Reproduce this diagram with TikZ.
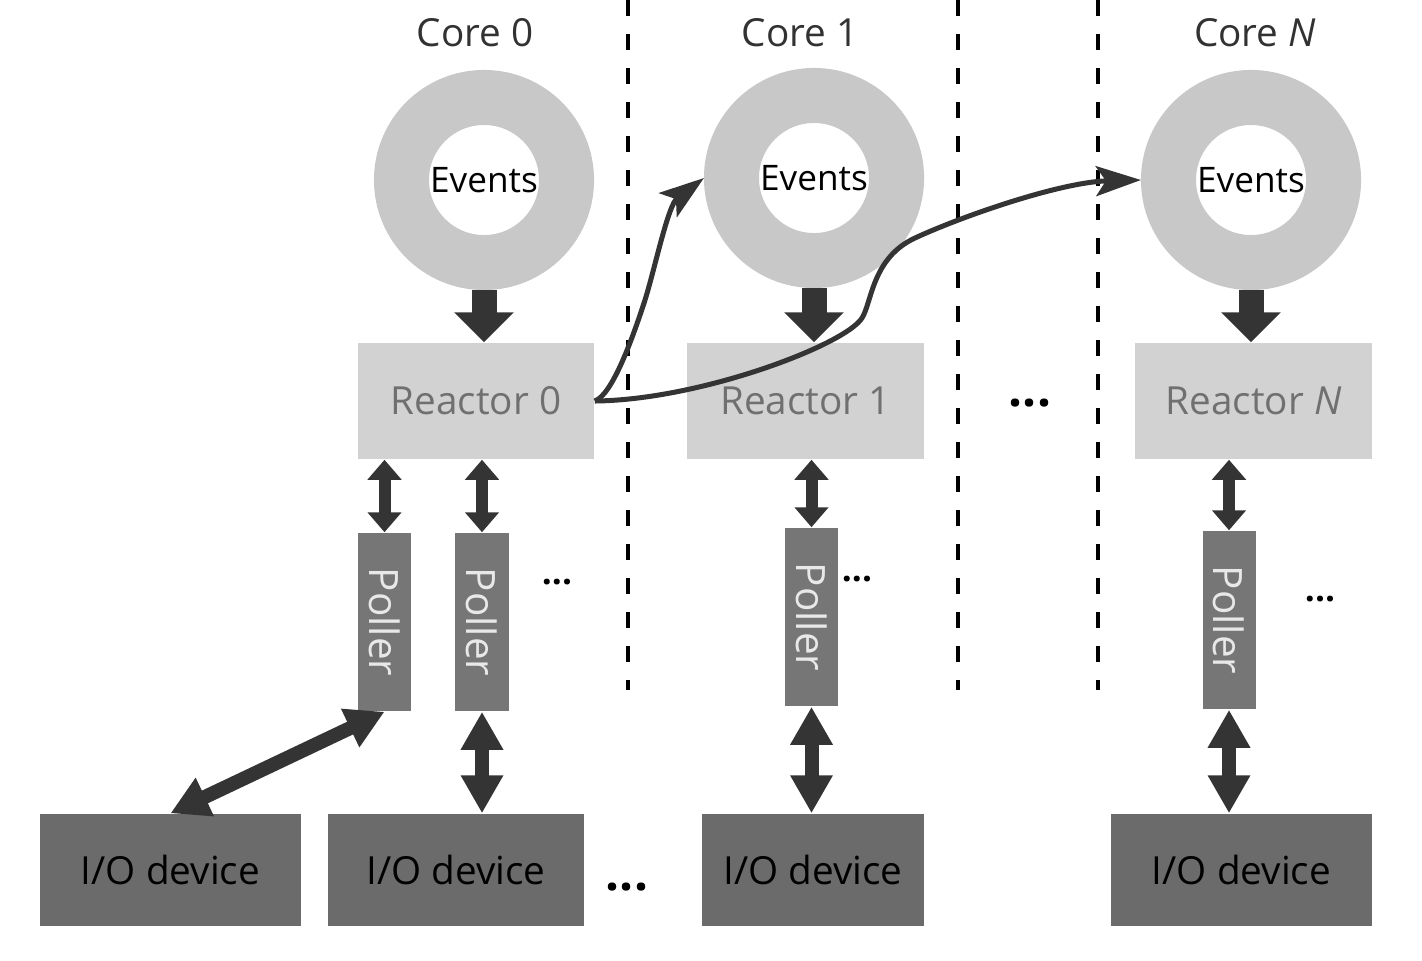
\documentclass[tikz,border=0pt]{standalone}
\usepackage{fontspec}
\setmainfont{Open Sans}
\usepackage{graphicx}
\usepackage{tikz}
\usetikzlibrary{arrows.meta,positioning}

\definecolor{ringgray}{RGB}{200,200,200}
\definecolor{reactorgray}{RGB}{210,210,210}
\definecolor{reactortext}{RGB}{112,112,112}
\definecolor{pollergray}{RGB}{118,118,118}
\definecolor{pollertext}{RGB}{232,232,232}
\definecolor{devicegray}{RGB}{107,107,107}
\definecolor{arrowgray}{RGB}{52,52,52}
\definecolor{labelgray}{RGB}{50,50,50}

\begin{document}
\begin{tikzpicture}[x=0.01cm,y=-0.01cm,
	core/.style={text=labelgray,font=\fontsize{11}{11}\selectfont},
	ring/.style={circle,draw=ringgray,line width=5.5mm,minimum size=16.5mm,inner sep=0pt,text=black,font=\fontsize{10}{10}\selectfont},
	reactor/.style={fill=reactorgray,text=reactortext,minimum width=23.6mm,minimum height=11.6mm,font=\fontsize{11}{11}\selectfont},
	poller/.style={fill=pollergray,text=pollertext,minimum width=5.3mm,minimum height=17.8mm,inner sep=0pt,font=\fontsize{11.5}{11.5}\selectfont},
	device/.style={fill=devicegray,text=black,minimum height=11.2mm,font=\fontsize{11}{11}\selectfont},
	bigdots/.style={anchor=base,font=\bfseries\fontsize{14}{14}\selectfont},
	smalldots/.style={anchor=base,font=\bfseries\fontsize{10}{10}\selectfont},
	feed/.style={-{Triangle[length=3mm,width=5.8mm]},line width=2.5mm,draw=arrowgray},
	link/.style={{Triangle[length=2mm,width=3.3mm]}-{Triangle[length=2mm,width=3.3mm]},line width=1.2mm,draw=arrowgray},
	iolink/.style={{Triangle[length=3.8mm,width=4mm]}-{Triangle[length=3.8mm,width=4mm]},line width=1.4mm,draw=arrowgray},
	hop/.style={-{Stealth[length=4.5mm,width=3mm,inset=1mm]},line width=0.5mm,draw=arrowgray},
	divider/.style={dash pattern=on 1.6mm off 1.8mm,line width=0.38mm,draw=black}
]
	\useasboundingbox (0,0) rectangle (1422,960);

	% core separators
	\draw[divider] (628,0) -- (628,690);
	\draw[divider] (958,0) -- (958,690);
	\draw[divider] (1098,0) -- (1098,690);

	% core 0
	\node[core] (c0) at (475,33) {Core 0};
	\node[ring] (e0) at (484,180) {Events};
	\node[reactor] (r0) at (476,401) {Reactor 0};
	\node[poller] (p00) at (384.5,622) {\rotatebox{-90}{Poller}};
	\node[poller] (p01) at (482,622) {\rotatebox{-90}{Poller}};
	\node[smalldots] (d0) at (557,584) {...};
	\node[device,minimum width=26.1mm] (io0) at (170.5,870) {I/O device};
	\node[device,minimum width=25.6mm] (io1) at (456,870) {I/O device};
	\node[bigdots] (d1) at (627,890) {...};

	% core 1
	\node[core] (c1) at (800,33) {Core 1};
	\node[ring] (e1) at (814,178) {Events};
	\node[reactor,minimum width=23.7mm] (r1) at (805.5,401) {Reactor 1};
	\node[poller] (p1) at (811.5,617) {\rotatebox{-90}{Poller}};
	\node[smalldots] (d2) at (857,581) {...};
	\node[device,minimum width=22.2mm] (io2) at (813,870) {I/O device};

	\node[bigdots] (d3) at (1030,406) {...};

	% core N
	\node[core] (cN) at (1255,33) {Core \textit{N}};
	\node[ring] (eN) at (1251,180) {Events};
	\node[reactor,minimum width=23.7mm] (rN) at (1253.5,401) {Reactor \textit{N}};
	\node[poller] (pN) at (1229,620) {\rotatebox{-90}{Poller}};
	\node[smalldots] (d4) at (1320,601) {...};
	\node[device,minimum width=26.1mm] (io3) at (1241.5,870) {I/O device};

	% events into reactors
	\draw[feed] (e0) -- (e0 |- r0.north);
	\draw[feed] (e1) -- (e1 |- r1.north);
	\draw[feed] (eN) -- (eN |- rN.north);

	% reactors and pollers
	\draw[link] (r0.south -| p00) -- (p00);
	\draw[link] (r0.south -| p01) -- (p01);
	\draw[link] (r1.south -| p1) -- (p1);
	\draw[link] (rN.south -| pN) -- (pN);

	% pollers and devices
	\draw[iolink] (p00.south) -- (io0.north);
	\draw[iolink] (p01) -- (p01 |- io1.north);
	\draw[iolink] (p1) -- (p1 |- io2.north);
	\draw[iolink] (pN) -- (pN |- io3.north);

	% messages to other cores
	\draw[hop] (r0.east) .. controls (612,395) and (632,340) .. (645,300)
		.. controls (655,268) and (668,205) .. (e1.west);
	\draw[hop] (r0.east) .. controls (700,400) and (845,345) .. (862,318)
		.. controls (872,302) and (872,258) .. (915,238)
		.. controls (960,217) and (1060,182) .. (eN.west);
\end{tikzpicture}
\end{document}
